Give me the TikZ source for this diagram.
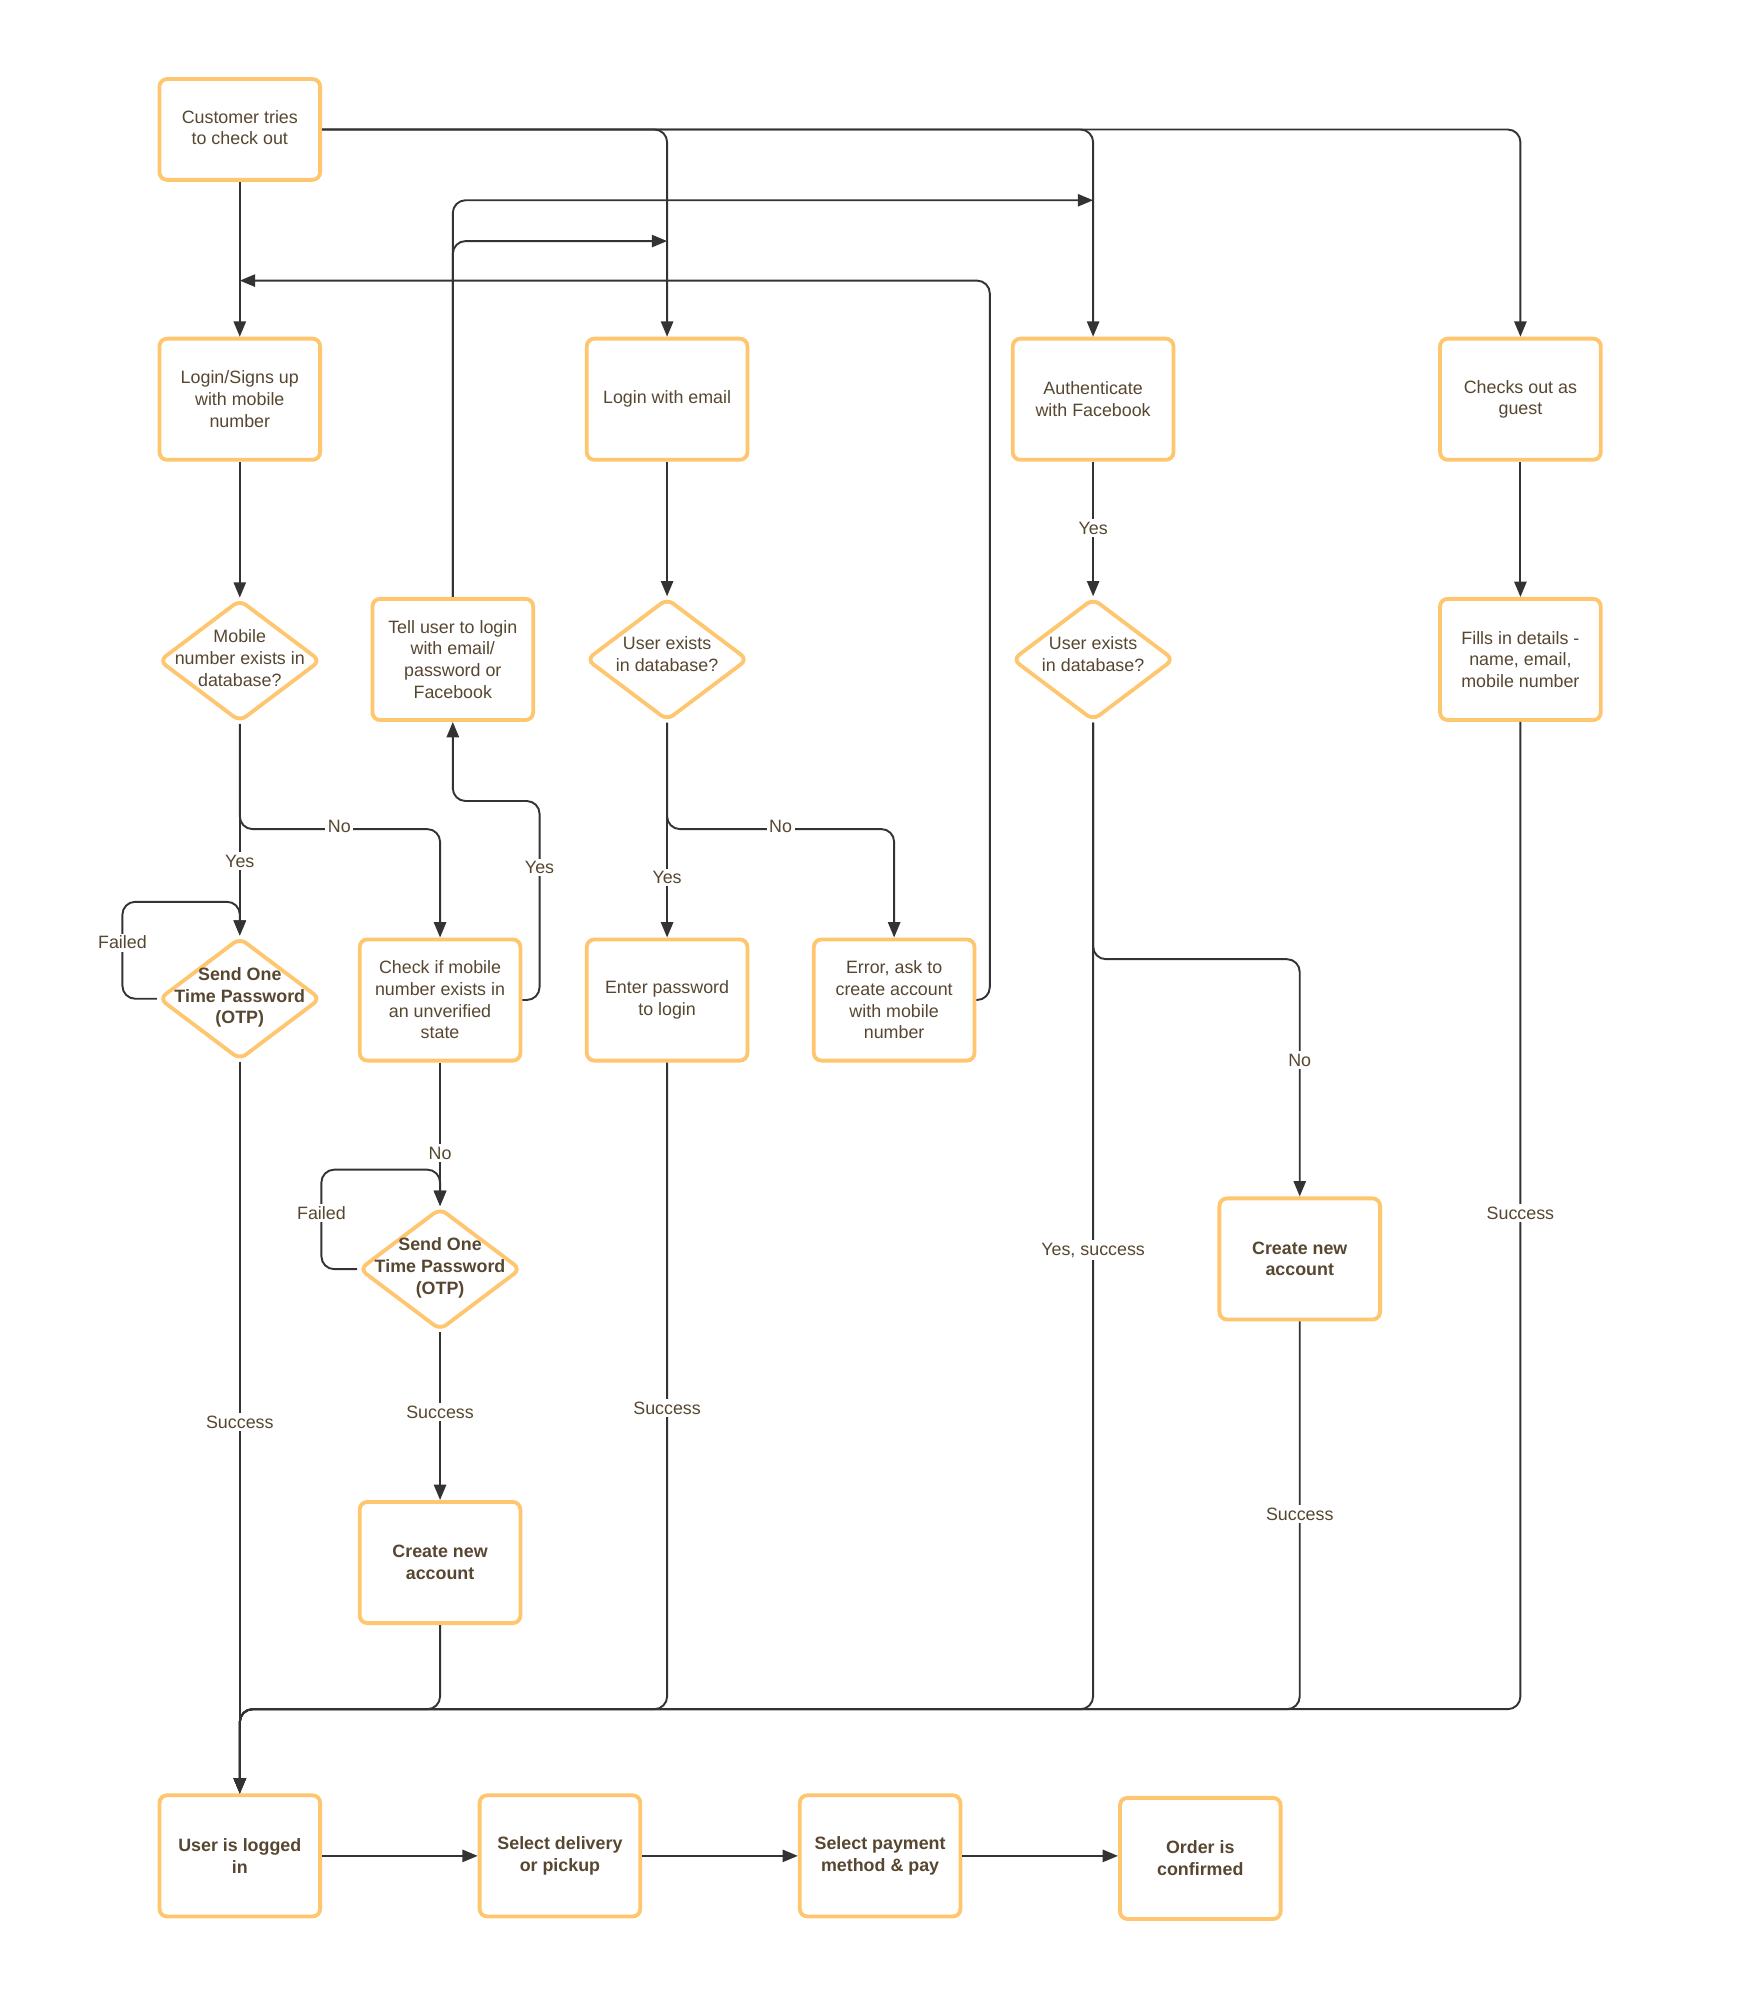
\documentclass[tikz,border=0pt]{standalone}
\usepackage{fontspec}
\setmainfont{Liberation Sans}
\usetikzlibrary{shapes.geometric,arrows.meta}
\definecolor{boxc}{HTML}{FFC670}
\definecolor{linec}{HTML}{333333}
\definecolor{txt}{HTML}{574731}
\tikzset{
  box/.style={draw=boxc, line width=1.5pt, rounded corners=3pt, minimum width=63pt, minimum height=47.5pt, align=center, text=txt, font=\fontsize{7}{8.5}\selectfont, inner sep=1pt},
  bbox/.style={box, font=\fontsize{7}{8.5}\selectfont\bfseries},
  dia/.style={draw=boxc, line width=1.5pt, diamond, rounded corners=3pt, minimum width=63.5pt, minimum height=48pt, inner sep=0pt},
  dtxt/.style={align=center, text=txt, font=\fontsize{7}{8.5}\selectfont, inner sep=0pt},
  bdtxt/.style={dtxt, font=\fontsize{7}{8.5}\selectfont\bfseries},
  conn/.style={draw=linec, line width=0.75pt, rounded corners=5pt},
  arr/.style={conn, -{Triangle[length=6pt,width=4.8pt]}},
  lbl/.style={fill=white, text=txt, font=\fontsize{7}{8.5}\selectfont, inner sep=1pt},
}
\begin{document}
\begin{tikzpicture}[x=0.5pt,y=-0.5pt]
\useasboundingbox (0,0) rectangle (1377,1568);
\fill[white] (0,0) rectangle (1377,1568);

% nodes
\node[box, minimum height=39.5pt] (cust) at (188,101.5) {Customer tries\\to check out\vphantom{g}};
\node[box] (mobl) at (188,313) {Login/Signs up\\with mobile\\number};
\node[box] (email) at (523,313) {Login with email};
\node[box] (fb) at (857,313) {Authenticate\\with Facebook};
\node[box] (guest) at (1192,313) {Checks out as\\guest};

\node[dia] (mob) at (188,518) {};
\node[dtxt] (mobt) at (188,516) {Mobile\\number exists in\\database?};
\node[box] (tell) at (355,517) {Tell user to login\\with email/\\password or\\Facebook};
\node[dia] (ued) at (523,517) {};
\node[dtxt] (uedt) at (523,513) {User exists\\in database?};
\node[dia] (fbd) at (857,517) {};
\node[dtxt] (fbdt) at (857,513) {User exists\\in database?};
\node[box] (fills) at (1192,517) {Fills in details -\\name, email,\\mobile number};

\node[dia] (otp1) at (188,783) {};
\node[bdtxt] (otp1t) at (188,782) {Send One\\Time Password\\(OTP)};
\node[box] (check) at (345,784) {Check if mobile\\number exists in\\an unverified\\state};
\node[box] (enter) at (523,784) {Enter password\\to login};
\node[box] (err) at (701,784) {Error, ask to\\create account\\with mobile\\number};

\node[dia] (otp2) at (345,995) {};
\node[bdtxt] (otp2t) at (345,994) {Send One\\Time Password\\(OTP)};
\node[bbox] (cna2) at (1019,987) {Create new\\account};
\node[bbox] (cna1) at (345,1225) {Create new\\account};

\node[bbox] (logged) at (188,1455) {User is logged\\in};
\node[bbox] (deliv) at (439,1455) {Select delivery\\or pickup};
\node[bbox] (pay) at (690,1455) {Select payment\\method \& pay};
\node[bbox] (order) at (941,1457) {Order is\\confirmed};

% free end points on other connectors
\coordinate (fbin) at (857,157);
\coordinate (emin) at (523,189);
\coordinate (mobin) at (188,220);
\coordinate (merge) at (188,1340);

% connectors
\draw[arr] (cust.south) -- (mobl.north);
\draw[arr] (cust.east) -| (email.north);
\draw[arr] (cust.east) -| (fb.north);
\draw[arr] (cust.east) -| (guest.north);

\draw[arr] (tell.north) |- (fbin);
\draw[arr] (tell.north) |- (emin);
\draw[arr] (err.east) -| (776,220) -- (mobin);

\draw[arr] (mobl.south) -- (mob.north);
\draw[arr] (mob.south) -- (otp1.north);
\draw[arr] (mob.south) -- (188,650) -| (check.north);
\draw[arr] (check.east) -| (423,628) -| (tell.south);
\draw[arr] (otp1.west) -| (96,707) -| (otp1.north);
\draw[arr] (otp1.south) -- (logged.north);

\draw[arr] (check.south) -- (otp2.north);
\draw[arr] (otp2.west) -| (252,917) -| (otp2.north);
\draw[arr] (otp2.south) -- (cna1.north);
\draw[arr] (cna1.south) |- (merge) -- (logged.north);

\draw[arr] (email.south) -- (ued.north);
\draw[arr] (ued.south) -- (enter.north);
\draw[arr] (ued.south) -- (523,650) -| (err.north);
\draw[arr] (enter.south) |- (merge) -- (logged.north);

\draw[arr] (fb.south) -- (fbd.north);
\draw[arr] (fbd.south) |- (merge) -- (logged.north);
\draw[arr] (fbd.south) -- (857,752) -| (cna2.north);
\draw[arr] (cna2.south) |- (merge) -- (logged.north);

\draw[arr] (guest.south) -- (fills.north);
\draw[arr] (fills.south) |- (merge) -- (logged.north);

\draw[arr] (logged.east) -- (deliv.west);
\draw[arr] (deliv.east) -- (pay.west);
\draw[arr] (pay.east) -- (pay.east -| order.west);

% labels
\node[lbl] (l1) at (188,675) {Yes};
\node[lbl] (l2) at (266,648) {No};
\node[lbl] (l3) at (423,680) {Yes};
\node[lbl] (l4) at (96,739) {Failed};
\node[lbl] (l5) at (188,1115) {Success};
\node[lbl] (l6) at (345,904) {No};
\node[lbl] (l7) at (252,951) {Failed};
\node[lbl] (l8) at (345,1107) {Success};
\node[lbl] (l9) at (523,688) {Yes};
\node[lbl] (l10) at (612,648) {No};
\node[lbl] (l11) at (523,1104) {Success};
\node[lbl] (l12) at (857,414) {Yes};
\node[lbl] (l13) at (857,980) {Yes, success};
\node[lbl] (l14) at (1019,831) {No};
\node[lbl] (l15) at (1019,1187) {Success};
\node[lbl] (l16) at (1192,951) {Success};
\end{tikzpicture}
\end{document}
